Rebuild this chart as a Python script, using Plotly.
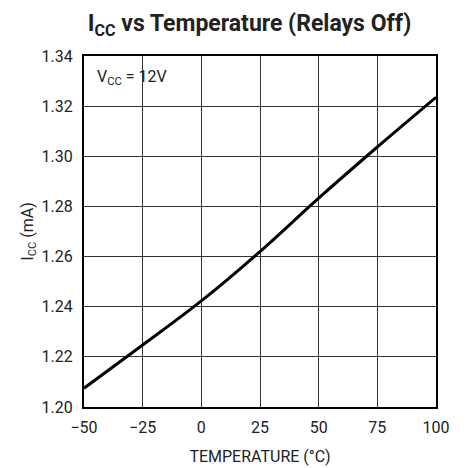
import plotly.graph_objects as go

temps = [-50, -25, 0, 25, 50, 75, 100]
icc_ma = [1.2075, 1.2247, 1.2423, 1.2620, 1.2833, 1.3037, 1.3235]

x_ticks = [-50, -25, 0, 25, 50, 75, 100]
x_tick_labels = ["\u221250", "\u221225", "0", "25", "50", "75", "100"]
y_ticks = [1.20, 1.22, 1.24, 1.26, 1.28, 1.30, 1.32, 1.34]
y_tick_labels = ["1.20", "1.22", "1.24", "1.26", "1.28", "1.30", "1.32", "1.34"]

FONT = "Roboto, Liberation Sans, sans-serif"

fig = go.Figure()
fig.add_trace(go.Scatter(
    x=temps, y=icc_ma, mode="lines",
    line=dict(color="black", width=3, shape="spline", smoothing=1.0),
    showlegend=False, hoverinfo="skip",
))

fig.update_layout(
    width=460, height=460,
    margin=dict(l=76, r=32, t=48, b=61, autoexpand=False),
    paper_bgcolor="white", plot_bgcolor="white",
    font=dict(family=FONT, color="#222", size=16),
    title=dict(
        text="<b>I<sub>CC</sub> vs Temperature (Relays Off)</b>",
        x=0.525, xanchor="center", y=0.967, yanchor="middle",
        font=dict(family=FONT, size=23, color="#222"),
    ),
    xaxis=dict(
        range=[-50, 100], tickvals=x_ticks, ticktext=x_tick_labels,
        showgrid=True, gridcolor="#333", gridwidth=1,
        showline=True, linecolor="black", linewidth=2, mirror=True,
        ticks="", zeroline=False, ticklabelstandoff=5,
        tickfont=dict(family=FONT, size=16, color="#222"),
        title=dict(text="TEMPERATURE (\u00b0C)", standoff=15,
                   font=dict(family=FONT, size=16, color="#222")),
    ),
    yaxis=dict(
        range=[1.20, 1.34], tickvals=y_ticks, ticktext=y_tick_labels,
        showgrid=True, gridcolor="#333", gridwidth=1,
        showline=True, linecolor="black", linewidth=2, mirror=True,
        ticks="", zeroline=False, ticklabelstandoff=6,
        tickfont=dict(family=FONT, size=16, color="#222"),
        title=dict(text="I<sub>CC</sub> (mA)", standoff=4,
                   font=dict(family=FONT, size=16, color="#222")),
    ),
    annotations=[dict(
        x=-45.5, y=1.3315, xref="x", yref="y", xanchor="left", yanchor="middle",
        text="V<sub>CC</sub> = 12V", showarrow=False,
        font=dict(family=FONT, size=16, color="#222"),
    )],
)

fig.write_html("out.html")
